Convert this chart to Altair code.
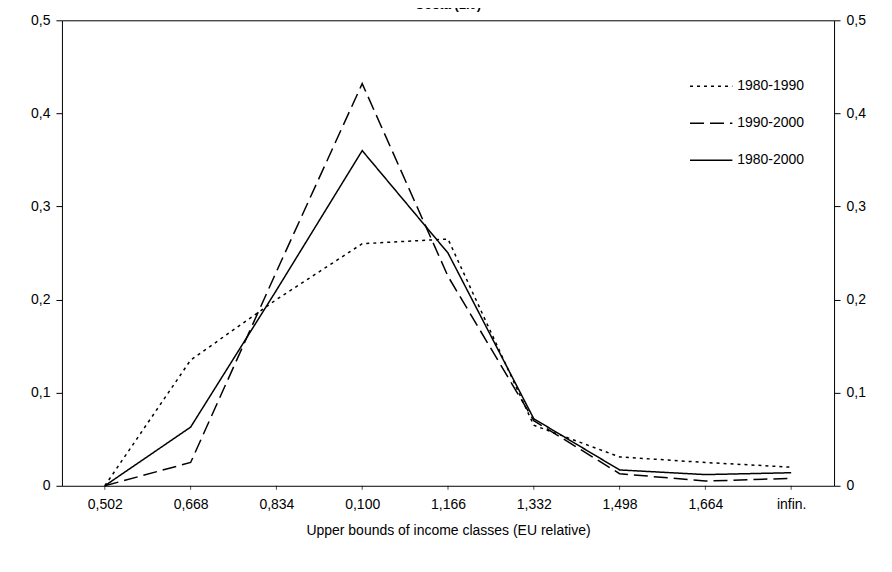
import altair as alt
import pandas as pd

classes = ["0,502", "0,668", "0,834", "0,100", "1,166", "1,332", "1,498", "1,664", "infin."]
s_8090 = [0.0, 0.135, 0.20, 0.26, 0.265, 0.065, 0.031, 0.025, 0.020]
s_9000 = [0.0, 0.025, 0.23, 0.432, 0.225, 0.070, 0.013, 0.005, 0.008]
s_8000 = [0.0, 0.063, 0.21, 0.360, 0.250, 0.072, 0.017, 0.012, 0.014]
series = ["1980-1990", "1990-2000", "1980-2000"]

rows = []
for name, vals in zip(series, [s_8090, s_9000, s_8000]):
    for c, v in zip(classes, vals):
        rows.append({"class": c, "value": v, "period": name})
data = pd.DataFrame(rows)

font = "Liberation Sans"
yscale = alt.Scale(domain=[0, 0.5], nice=False)
lbl = "replace(format(datum.value, '.1f'), '.', ',') == '0,0' ? '0' : replace(format(datum.value, '.1f'), '.', ',')"

lines = alt.Chart(data).mark_line(color="black", strokeWidth=1.5).encode(
    x=alt.X("class:O", sort=classes, scale=alt.Scale(type="point", padding=0.5),
            title="Upper bounds of income classes (EU relative)",
            axis=alt.Axis(labelAngle=0, ticks=False, domain=False, labelPadding=12, titlePadding=12)),
    y=alt.Y("value:Q", scale=yscale, title=None,
            axis=alt.Axis(values=[0, 0.1, 0.2, 0.3, 0.4, 0.5], labelExpr=lbl, grid=False,
                          tickColor="black", tickSize=6, domain=False, labelPadding=6)),
    strokeDash=alt.StrokeDash("period:N", sort=series, title=None,
                              scale=alt.Scale(domain=series, range=[[3, 4], [14, 6], [1, 0]]),
                              legend=alt.Legend(orient="none", legendX=628, legendY=44,
                                                symbolType="stroke", symbolSize=1800, symbolStrokeWidth=1.5,
                                                symbolStrokeColor="black", rowPadding=8)),
)

right = alt.Chart(pd.DataFrame({"value": [0]})).mark_point(opacity=0).encode(
    y=alt.Y("value:Q", scale=yscale, title=None,
            axis=alt.Axis(orient="right", values=[0, 0.1, 0.2, 0.3, 0.4, 0.5], labelExpr=lbl,
                          grid=False, tickColor="black", tickSize=6, domain=False, labelPadding=6)),
)

# band ticks on the bottom edge between classes
ticks = alt.Chart(pd.DataFrame({"class": classes})).mark_tick(color="black", thickness=1, size=8, yOffset=4).encode(
    x=alt.X("class:O", sort=classes, scale=alt.Scale(type="band", paddingInner=0, paddingOuter=0), axis=None),
    y=alt.value(466),
)

chart = alt.layer(lines, right, ticks).resolve_scale(x="independent", y="independent").properties(
    width=773, height=466,
    autosize=alt.AutoSizeParams(type="none"),
    padding={"left": 54, "top": 12, "right": 50, "bottom": 70},
    title=alt.TitleParams("Costa (1.0)", fontSize=13, font=font, fontWeight="bold", offset=1, color="black"),
).configure_view(stroke="black", strokeWidth=1).configure_axis(
    labelFont=font, titleFont=font, labelFontSize=14, titleFontSize=14,
    labelColor="black", titleColor="black", titleFontWeight="normal",
).configure_legend(labelFont=font, labelFontSize=14, labelColor="black")

chart.save("out.html", embed_options={"renderer": "svg", "actions": False})
